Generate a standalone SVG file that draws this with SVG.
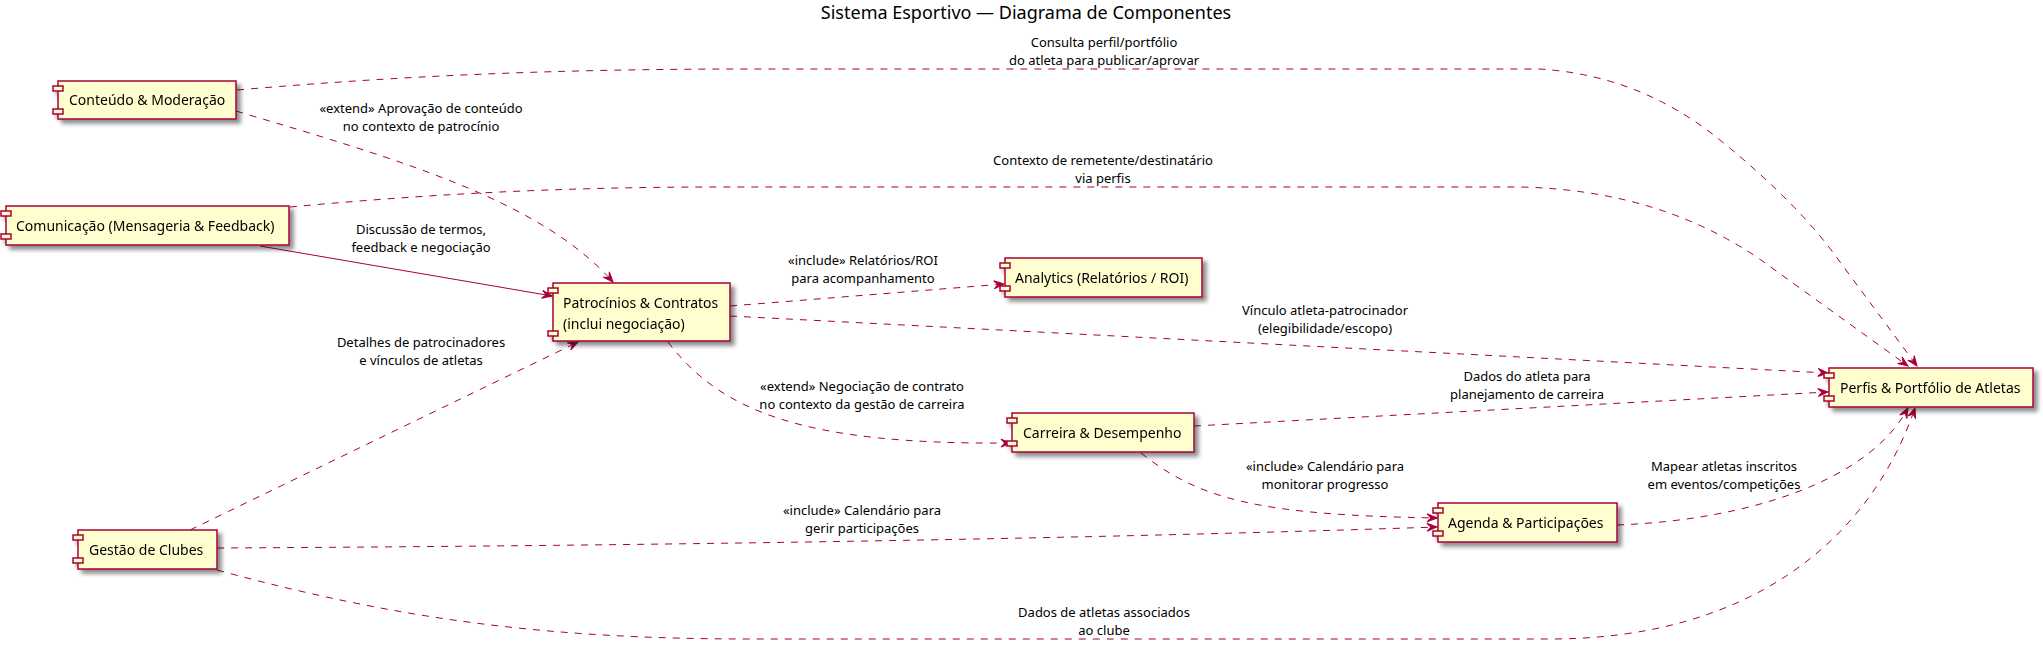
<svg xmlns="http://www.w3.org/2000/svg" width="2043" height="650" viewBox="0 0 2043 650">
<style>
.box{fill:#FEFECE;stroke:#A80036;stroke-width:1.5}
.port{fill:#FEFECE;stroke:#A80036;stroke-width:1.5}
.nt{font-family:"Noto Sans","DejaVu Sans",sans-serif;font-size:14px;fill:#000}
.lt{font-family:"Noto Sans","DejaVu Sans",sans-serif;font-size:13px;fill:#000;text-anchor:middle}
.title{font-family:"Noto Sans","DejaVu Sans",sans-serif;font-size:18px;fill:#000;text-anchor:middle}
.e{fill:none;stroke:#A80036;stroke-width:1}
.d{stroke-dasharray:7,7}
</style>
<defs>
<filter id="sh" x="-10%" y="-20%" width="130%" height="160%">
<feGaussianBlur in="SourceAlpha" stdDeviation="2"/>
<feOffset dx="4" dy="4" result="b"/>
<feComponentTransfer><feFuncA type="linear" slope="0.45"/></feComponentTransfer>
<feMerge><feMergeNode/><feMergeNode in="SourceGraphic"/></feMerge>
</filter>
<marker id="ah" viewBox="-11 -5 12 10" refX="0" refY="0" markerWidth="12" markerHeight="10" markerUnits="userSpaceOnUse" orient="auto">
<path d="M0,0 L-10,-4 L-6,0 L-10,4 Z" fill="#A80036" stroke="#A80036" stroke-width="1"/>
</marker>
</defs>
<rect width="2043" height="650" fill="#FFFFFF"/>
<text class="title" x="1026" y="19">Sistema Esportivo — Diagrama de Componentes</text>

<g id="connectors">
<path class="e d" d="M237,90 C400,76 550,69 750,69 L1539,69 Q1640,75 1720,140 Q1800,205 1840,262 L1917,366" marker-end="url(#ah)"/>
<path class="e d" d="M236,111 C400,160 540,200 613,282" marker-end="url(#ah)"/>
<path class="e d" d="M290,207 C420,195 550,187 720,187 L1520,187 Q1660,190 1761,260 L1908,366" marker-end="url(#ah)"/>
<path class="e" d="M260,246 L552,296" marker-end="url(#ah)"/>
<path class="e d" d="M730,306 L1004,284" marker-end="url(#ah)"/>
<path class="e d" d="M730,316 L1828,373" marker-end="url(#ah)"/>
<path class="e d" d="M668,342 C720,410 800,445 1011,443" marker-end="url(#ah)"/>
<path class="e d" d="M1194,426 L1828,392" marker-end="url(#ah)"/>
<path class="e d" d="M1141,453 C1200,500 1260,515 1437,518" marker-end="url(#ah)"/>
<path class="e d" d="M190,530 L578,342" marker-end="url(#ah)"/>
<path class="e d" d="M217,548 C800,545 1200,535 1437,527" marker-end="url(#ah)"/>
<path class="e d" d="M217,570 C400,620 550,639 750,639 L1550,639 C1750,639 1870,540 1915,408" marker-end="url(#ah)"/>
<path class="e d" d="M1617,525 C1750,520 1870,480 1908,408" marker-end="url(#ah)"/>

<text class="lt" x="1104" y="47">Consulta perfil/portfólio</text>
<text class="lt" x="1104" y="65">do atleta para publicar/aprovar</text>
<text class="lt" x="421" y="113">«extend» Aprovação de conteúdo</text>
<text class="lt" x="421" y="131">no contexto de patrocínio</text>
<text class="lt" x="1103" y="165">Contexto de remetente/destinatário</text>
<text class="lt" x="1103" y="183">via perfis</text>
<text class="lt" x="421" y="234">Discussão de termos,</text>
<text class="lt" x="421" y="252">feedback e negociação</text>
<text class="lt" x="863" y="265">«include» Relatórios/ROI</text>
<text class="lt" x="863" y="283">para acompanhamento</text>
<text class="lt" x="1325" y="315">Vínculo atleta-patrocinador</text>
<text class="lt" x="1325" y="333">(elegibilidade/escopo)</text>
<text class="lt" x="421" y="347">Detalhes de patrocinadores</text>
<text class="lt" x="421" y="365">e vínculos de atletas</text>
<text class="lt" x="1527" y="381">Dados do atleta para</text>
<text class="lt" x="1527" y="399">planejamento de carreira</text>
<text class="lt" x="862" y="391">«extend» Negociação de contrato</text>
<text class="lt" x="862" y="409">no contexto da gestão de carreira</text>
<text class="lt" x="1325" y="471">«include» Calendário para</text>
<text class="lt" x="1325" y="489">monitorar progresso</text>
<text class="lt" x="1724" y="471">Mapear atletas inscritos</text>
<text class="lt" x="1724" y="489">em eventos/competições</text>
<text class="lt" x="862" y="515">«include» Calendário para</text>
<text class="lt" x="862" y="533">gerir participações</text>
<text class="lt" x="1104" y="617">Dados de atletas associados</text>
<text class="lt" x="1104" y="635">ao clube</text>
</g>

<g id="conteudo" filter="url(#sh)">
<rect class="box" x="58" y="81" width="178" height="38"/>
<rect class="port" x="53" y="86" width="10" height="5"/>
<rect class="port" x="53" y="109" width="10" height="5"/>
<text class="nt" x="69" y="105">Conteúdo &amp; Moderação</text>
</g>
<g id="comunicacao" filter="url(#sh)">
<rect class="box" x="6" y="206" width="283" height="39"/>
<rect class="port" x="1" y="211" width="10" height="5"/>
<rect class="port" x="1" y="234" width="10" height="5"/>
<text class="nt" x="16" y="231">Comunicação (Mensageria &amp; Feedback)</text>
</g>
<g id="patrocinios" filter="url(#sh)">
<rect class="box" x="553" y="283" width="177" height="58"/>
<rect class="port" x="548" y="288" width="10" height="5"/>
<rect class="port" x="548" y="331" width="10" height="5"/>
<text class="nt" x="563" y="307.5">Patrocínios &amp; Contratos</text>
<text class="nt" x="563" y="328.5">(inclui negociação)</text>
</g>
<g id="analytics" filter="url(#sh)">
<rect class="box" x="1005" y="258" width="197" height="39"/>
<rect class="port" x="1000" y="263" width="10" height="5"/>
<rect class="port" x="1000" y="286" width="10" height="5"/>
<text class="nt" x="1015" y="282.5">Analytics (Relatórios / ROI)</text>
</g>
<g id="carreira" filter="url(#sh)">
<rect class="box" x="1012" y="413" width="182" height="39"/>
<rect class="port" x="1007" y="418" width="10" height="5"/>
<rect class="port" x="1007" y="441" width="10" height="5"/>
<text class="nt" x="1023" y="437.5">Carreira &amp; Desempenho</text>
</g>
<g id="agenda" filter="url(#sh)">
<rect class="box" x="1438" y="503" width="179" height="39"/>
<rect class="port" x="1433" y="508" width="10" height="5"/>
<rect class="port" x="1433" y="531" width="10" height="5"/>
<text class="nt" x="1448" y="527.5">Agenda &amp; Participações</text>
</g>
<g id="perfis" filter="url(#sh)">
<rect class="box" x="1829" y="368" width="204" height="39"/>
<rect class="port" x="1824" y="373" width="10" height="5"/>
<rect class="port" x="1824" y="396" width="10" height="5"/>
<text class="nt" x="1840" y="392.5">Perfis &amp; Portfólio de Atletas</text>
</g>
<g id="gestao" filter="url(#sh)">
<rect class="box" x="78" y="530" width="139" height="39"/>
<rect class="port" x="73" y="535" width="10" height="5"/>
<rect class="port" x="73" y="558" width="10" height="5"/>
<text class="nt" x="89" y="554.5">Gestão de Clubes</text>
</g>
</svg>
